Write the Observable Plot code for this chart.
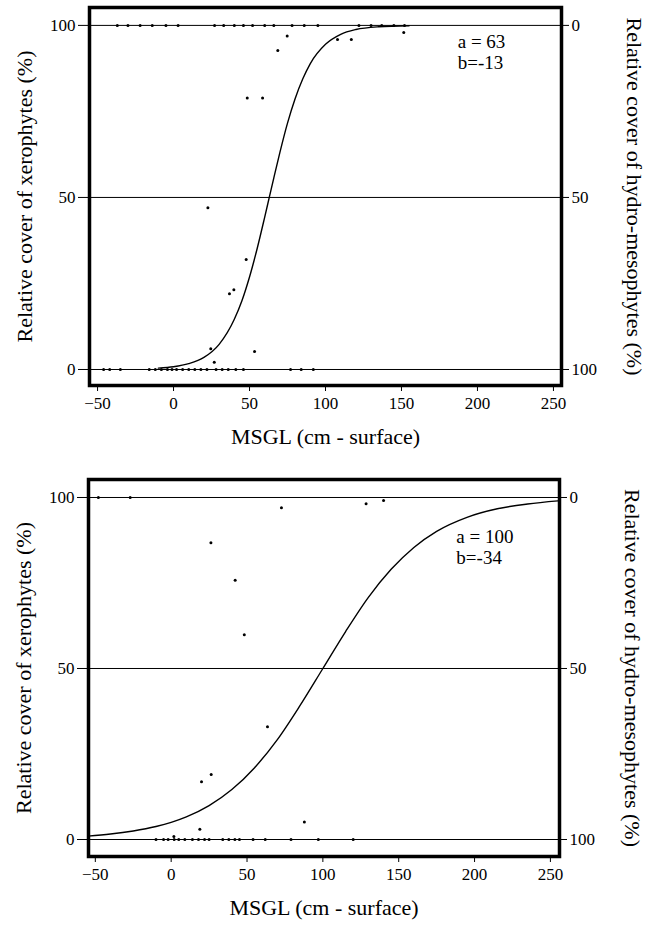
<!DOCTYPE html>
<html>
<head>
<meta charset="utf-8">
<script src="https://cdn.jsdelivr.net/npm/d3@7"></script>
<script src="https://cdn.jsdelivr.net/npm/@observablehq/plot@0.6"></script>
</head>
<body style="margin:0;background:#fff">
<div id="chart"></div>
<script>
// ---------- data ----------
const xTicks = [-50, 0, 50, 100, 150, 200, 250];
const yTicks = [0, 50, 100];
const xLabel = "MSGL (cm - surface)";
const yLabelLeft = "Relative cover of xerophytes (%)";
const yLabelRight = "Relative cover of hydro-mesophytes (%)";

// Panel 1 (a = 63, b = -13)
const topParams = ["a = 63", "b=-13"];
const topCurveX = [-10, 0, 10, 20, 30, 40, 45, 50, 55, 60, 63, 66, 70, 75, 80, 85, 90, 100, 110, 120, 135, 155];
const topCurveY = [0.4, 0.8, 1.7, 3.5, 7.3, 14.6, 20, 26.9, 35.1, 44.3, 50, 55.7, 63.1, 71.6, 78.7, 84.4, 88.9, 94.5, 97.4, 98.8, 99.6, 99.9];
const topPtsX = [48.5, 58.6, 68.6, 74.8, 107.9, 117, 151.5, 22.6, 47.8, 36.8, 39.7, 24.5, 26.8, 53.3,
  -37, -30, -22, -14, -5, 3, 27, 33, 40, 46, 52, 60, 66, 78, 86, 95, 122, 130, 137, 145, 152,
  -46, -42, -35, -16, -12, -8, -4, -1, 2, 6, 10, 14, 18, 22, 28, 32, 36, 41, 46, 77, 84, 92];
const topPtsY = [78.9, 78.9, 92.7, 96.9, 95.9, 95.9, 97.9, 47.0, 32.0, 22.0, 23.2, 6.0, 2.1, 5.2,
  100, 100, 100, 100, 100, 100, 100, 100, 100, 100, 100, 100, 100, 100, 100, 100, 100, 100, 100, 100, 100,
  0, 0, 0, 0, 0, 0, 0, 0, 0, 0, 0, 0, 0, 0, 0, 0, 0, 0, 0, 0, 0, 0];

// Panel 2 (a = 100, b = -34)
const botParams = ["a = 100", "b=-34"];
const botCurveX = [-55, -40, -25, -10, 0, 10, 25, 40, 55, 70, 85, 100, 115, 130, 145, 160, 175, 195, 215, 235, 255];
const botCurveY = [1.0, 1.6, 2.5, 3.8, 5.0, 6.6, 9.9, 14.6, 21.0, 29.2, 39.2, 50, 60.8, 70.8, 79.0, 85.4, 90.1, 94.2, 96.7, 98.1, 99.0];
const botPtsX = [72.7, 26.2, 42.2, 48.2, 128.5, 140, 63.5, 26.4, 20, 18.9, 87.8, 1.8,
  -10, -5, -2, 2, 5, 9, 14, 18, 22, 25, 34, 38, 42, 45, 54, 62, 79, 97, 120,
  -27, -48];
const botPtsY = [97.0, 86.8, 75.8, 59.9, 98.2, 99.1, 33.0, 19.0, 16.9, 3.0, 5.1, 0.9,
  0, 0, 0, 0, 0, 0, 0, 0, 0, 0, 0, 0, 0, 0, 0, 0, 0, 0, 0,
  100, 100];

// ---------- drawing ----------
const FONT = "Liberation Serif";

function panel({height, marginTop, marginBottom, marginLeft, marginRight, xDomain, yDomain,
                curveX, curveY, ptsX, ptsY, params, paramX, paramY}) {
  const curve = curveX.map((x, i) => ({x, y: curveY[i]}));
  const pts = ptsX.map((x, i) => ({x, y: ptsY[i]}));
  const ann = params.map((t, i) => ({t, x: paramX, y: paramY[i]}));
  const txt = {fontFamily: FONT, fill: "#000"};
  return Plot.plot({
    width: 652,
    height,
    marginTop, marginBottom, marginLeft, marginRight,
    x: {domain: xDomain},
    y: {domain: yDomain},
    marks: [
      Plot.ruleY(yTicks, {stroke: "#000", strokeWidth: 1}),
      Plot.axisX({ticks: xTicks, tickSize: 6, tickPadding: 5, label: null, fontSize: 17, ...txt, stroke: "#000"}),
      Plot.axisY({anchor: "left", ticks: yTicks, tickSize: 11, tickPadding: 3, label: null, fontSize: 17, ...txt, stroke: "#000"}),
      Plot.axisY({anchor: "right", ticks: yTicks, tickSize: 7, tickPadding: 3, label: null, fontSize: 17, ...txt, stroke: "#000",
                  tickFormat: d => String(100 - d)}),
      Plot.dot(pts, {x: "x", y: "y", r: 1.5, fill: "#000", stroke: null}),
      Plot.line(curve, {x: "x", y: "y", curve: "monotone-x", stroke: "#000", strokeWidth: 1.4}),
      Plot.text(ann, {x: "x", y: "y", text: "t", textAnchor: "start", fontSize: 19, ...txt}),
      Plot.frame({stroke: "#000", strokeWidth: 3.5}),
      Plot.text([xLabel], {frameAnchor: "bottom", textAnchor: "middle", dy: 58, fontSize: 22, ...txt}),
      Plot.text([yLabelLeft], {frameAnchor: "left", textAnchor: "middle", dx: -65, rotate: -90, fontSize: 22, ...txt}),
      Plot.text([yLabelRight], {frameAnchor: "right", textAnchor: "middle", dx: 73, rotate: 90, fontSize: 22, ...txt})
    ]
  });
}

const chart = document.getElementById("chart");
chart.appendChild(panel({
  height: 472, marginTop: 7, marginBottom: 87, marginLeft: 89, marginRight: 91,
  xDomain: [-55.3, 255.3], yDomain: [-4.65, 105.2],
  curveX: topCurveX, curveY: topCurveY, ptsX: topPtsX, ptsY: topPtsY,
  params: topParams, paramX: 187, paramY: [95.1, 89.0]
}));
chart.appendChild(panel({
  height: 454, marginTop: 7, marginBottom: 70, marginLeft: 88, marginRight: 93,
  xDomain: [-54.5, 256], yDomain: [-4.97, 105.26],
  curveX: botCurveX, curveY: botCurveY, ptsX: botPtsX, ptsY: botPtsY,
  params: botParams, paramX: 188, paramY: [88.6, 82.2]
}));
</script>
</body>
</html>
